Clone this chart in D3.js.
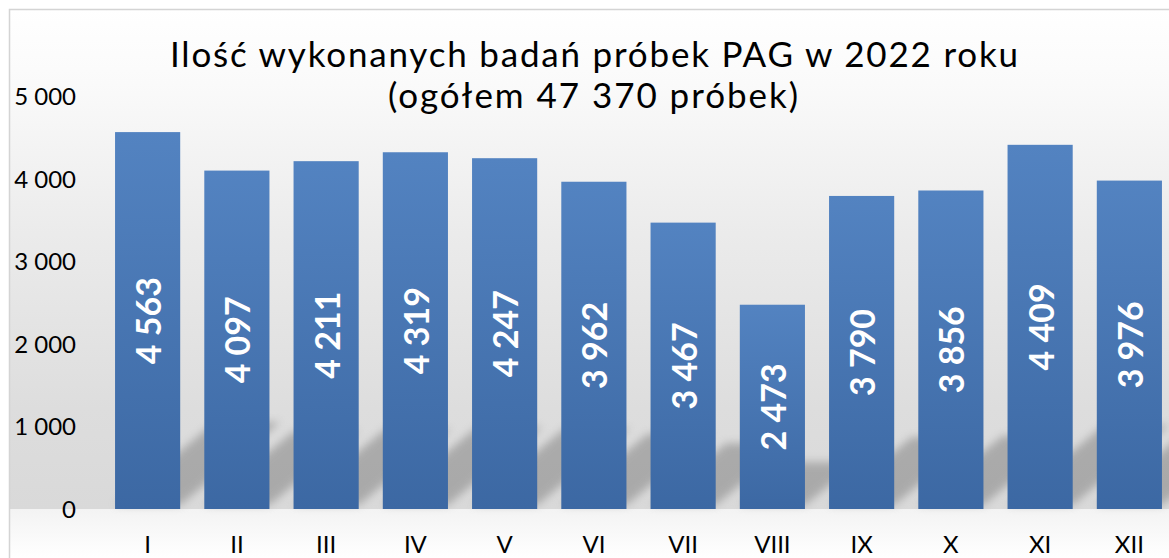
<!DOCTYPE html>
<html><head><meta charset="utf-8">
<script src="https://cdn.jsdelivr.net/npm/d3@7/dist/d3.min.js"></script>
<style>html,body{margin:0;padding:0;background:#fff;overflow:hidden}svg{display:block}</style>
</head><body>
<svg id="chart" width="1169" height="558"></svg>
<script>
const months = ["I","II","III","IV","V","VI","VII","VIII","IX","X","XI","XII"];
const samples = [4563,4097,4211,4319,4247,3962,3467,2473,3790,3856,4409,3976];
const yTicks = [0,1000,2000,3000,4000,5000];
const titleLines = ["Ilość wykonanych badań próbek PAG w 2022 roku","(ogółem 47 370 próbek)"];

const W = 1169, H = 558;
const svg = d3.select("#chart");
const fmt = v => d3.format(",")(v).replace(/,/g, " ");
const FONT = "Lato, 'Open Sans', sans-serif";

const defs = svg.append("defs");
const bg = defs.append("linearGradient").attr("id","bg").attr("x1",0).attr("y1",0).attr("x2",0).attr("y2",1);
[[0,"#ffffff"],[0.15,"#fafafa"],[0.45,"#ebebeb"],[0.8,"#dddddd"],[1,"#d9d9d9"]].forEach(s=>bg.append("stop").attr("offset",s[0]).attr("stop-color",s[1]));
const fl = defs.append("linearGradient").attr("id","floor").attr("x1",0).attr("y1",0).attr("x2",0).attr("y2",1);
[[0,"#f3f3f3"],[1,"#ffffff"]].forEach(s=>fl.append("stop").attr("offset",s[0]).attr("stop-color",s[1]));
const bar = defs.append("linearGradient").attr("id","bar").attr("x1",0).attr("y1",0).attr("x2",0).attr("y2",1);
[[0,"#5383c1"],[1,"#3c68a3"]].forEach(s=>bar.append("stop").attr("offset",s[0]).attr("stop-color",s[1]));
defs.append("filter").attr("id","blur").attr("x","-50%").attr("y","-50%").attr("width","200%").attr("height","200%")
  .append("feGaussianBlur").attr("stdDeviation",4.5);

const x = d3.scaleBand().domain(months).range([103, 1174]).paddingInner(0.27).paddingOuter(0.135);
const y = d3.scaleLinear().domain([0,5000]).range([509, 96]);

// background
svg.append("rect").attr("x",9).attr("y",9).attr("width",W).attr("height",y(0)-9).attr("fill","url(#bg)");
svg.append("rect").attr("x",9).attr("y",y(0)).attr("width",W).attr("height",H-y(0)).attr("fill","url(#floor)");
svg.append("rect").attr("x",9.5).attr("y",9.5).attr("width",W+10).attr("height",H+10).attr("fill","none").attr("stroke","#d4d4d4").attr("stroke-width",1.5);

// shadows
const sh = svg.append("g").attr("filter","url(#blur)").attr("opacity",0.6);
months.forEach((m,i)=>{
  const x0 = x(m), x1 = x(m)+x.bandwidth(), b = y(0);
  const h = samples[i]*0.019, dx = h*1.15;
  sh.append("path").attr("d",`M${x0},${b-4}L${x1},${b-4}L${x1+dx},${b-h}L${x0+dx},${b-h}Z`).attr("fill","#8a8a8a");
});

// bars
svg.append("g").selectAll("rect").data(samples).join("rect")
  .attr("x",(d,i)=>x(months[i])).attr("width",x.bandwidth())
  .attr("y",d=>y(d)).attr("height",d=>y(0)-y(d)).attr("fill","url(#bar)");

// y axis
const yAxis = svg.append("g").attr("transform","translate(76,0)")
  .call(d3.axisLeft(y).tickValues(yTicks).tickFormat(fmt).tickSize(0).tickPadding(0));
yAxis.select(".domain").remove();
yAxis.selectAll("text").attr("font-family",FONT).attr("font-size",24).attr("fill","#000").attr("dy","0.35em");

// x axis
const xAxis = svg.append("g").attr("transform",`translate(0,${y(0)})`)
  .call(d3.axisBottom(x).tickSize(0).tickPadding(0));
xAxis.select(".domain").remove();
xAxis.selectAll("text").attr("font-family",FONT).attr("font-size",24).attr("fill","#000").attr("dy",0).attr("y",44);

// value labels
svg.append("g").selectAll("text").data(samples).join("text")
  .attr("transform",(d,i)=>`translate(${x(months[i])+x.bandwidth()/2},${(y(d)+y(0))/2}) rotate(-90)`)
  .attr("text-anchor","middle").attr("dominant-baseline","central")
  .attr("font-family",FONT).attr("font-weight","bold").attr("font-size",34).attr("fill","#fff")
  .text(fmt);

// title
svg.append("text").attr("x",594).attr("y",67).attr("text-anchor","middle")
  .attr("font-family",FONT).attr("font-size",35).attr("fill","#000")
  .attr("textLength",848).attr("lengthAdjust","spacing").text(titleLines[0]);
svg.append("text").attr("x",593).attr("y",108).attr("text-anchor","middle")
  .attr("font-family",FONT).attr("font-size",35).attr("fill","#000")
  .attr("textLength",410).attr("lengthAdjust","spacing").text(titleLines[1]);
</script>
</body></html>
